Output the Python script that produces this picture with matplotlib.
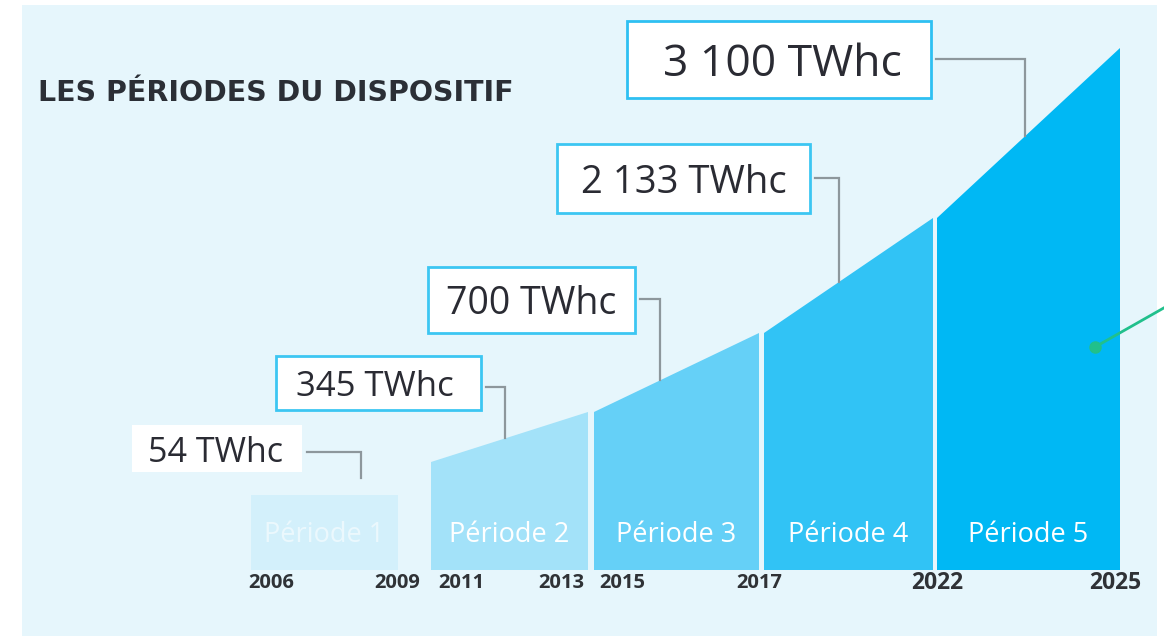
import matplotlib
matplotlib.use("Agg")
import matplotlib.pyplot as plt
from matplotlib.patches import Rectangle, Polygon

# ---------------- data ----------------
periods = ["Période 1", "Période 2", "Période 3", "Période 4", "Période 5"]
start_years = [2006, 2011, 2015, 2017, 2022]
end_years = [2009, 2013, 2017, 2022, 2025]
target_labels = ["54 TWhc", "345 TWhc", "700 TWhc", "2 133 TWhc", "3 100 TWhc"]
# illustrative height of the rising envelope at the start / end of each period
env_start = [75, 108, 158, 237, 352]
env_end = [75, 158, 237, 352, 522]
year_ticks = [2006, 2009, 2011, 2013, 2015, 2017, 2022, 2025]

# ---------------- layout (pixels) ----------------
W, H = 1164, 636
slot_left = [251, 431, 594, 764, 937]
slot_right = [398, 588, 759, 933, 1120]
period_colors = ["#d3f0fb", "#a3e2f9", "#65d0f7", "#31c3f5", "#00b8f4"]
period_text_alpha = [0.55, 1, 1, 1, 1]
year_x = [271, 397, 461, 561, 622, 759, 937, 1115]
year_size = [14.5, 14.5, 14.5, 14.5, 14.5, 14.5, 16.5, 16.5]
# label boxes: (x0, x1, y0, y1) in px from top-left
boxes = [(132, 302, 425, 472), (276, 481, 356, 410), (428, 635, 267, 333),
         (557, 810, 144, 213), (627, 931, 21, 98)]
box_border = [None, "#3cc6f2", "#3cc6f2", "#3cc6f2", "#2ec0f2"]
label_size = [24.5, 25, 27, 27.5, 32]
label_dx = [-2, -4, 0, 0, 3]
leader_x = [361, 505, 660, 839, 1025]
leader_y = [452, 387, 299, 178, 59]
leader_gap = [17, 0, 0, 0, 0]
BASE = 570  # px row of the baseline

fig = plt.figure(figsize=(W / 100, H / 100), dpi=100)
fig.patch.set_facecolor("white")
ax = fig.add_axes([0, 0, 1, 1])
ax.set_xlim(0, W)
ax.set_ylim(-(H - BASE), BASE)
ax.axis("off")


def py(y_px):
    return BASE - y_px


# background panel
ax.add_patch(Rectangle((22, py(H)), 1157 - 22, H - 5, facecolor="#e6f6fc",
                       edgecolor="none", zorder=0))

# periods
for i, name in enumerate(periods):
    x0, x1 = slot_left[i], slot_right[i]
    poly = Polygon([(x0, 0), (x0, env_start[i]), (x1, env_end[i]), (x1, 0)],
                   closed=True, facecolor=period_colors[i], edgecolor="none", zorder=2)
    ax.add_patch(poly)
    ax.text((x0 + x1) / 2, py(535), name, color="white", alpha=period_text_alpha[i],
            fontsize=19.5, family="Open Sans", ha="center", va="center", zorder=3)

# year ticks
for i, y in enumerate(year_ticks):
    ax.text(year_x[i], py(583), str(y), fontsize=year_size[i], family="Open Sans",
            fontweight="bold", color="#2f3236", ha="center", va="center", zorder=3)


def env_at(x):
    for i in range(len(periods)):
        if slot_left[i] <= x <= slot_right[i]:
            t = (x - slot_left[i]) / (slot_right[i] - slot_left[i])
            return env_start[i] + t * (env_end[i] - env_start[i])
    return 0


# label boxes + leaders
for i, lab in enumerate(target_labels):
    x0, x1, y0, y1 = boxes[i]
    ec = box_border[i] if box_border[i] else "none"
    ax.add_patch(Rectangle((x0, py(y1)), x1 - x0, y1 - y0, facecolor="white",
                           edgecolor=ec, linewidth=2.0, zorder=4))
    ax.text((x0 + x1) / 2 + label_dx[i], py((y0 + y1) / 2), lab, fontsize=label_size[i],
            family="Open Sans", color="#2a2b33", ha="center", va="center_baseline", zorder=5)
    top = env_at(leader_x[i]) + leader_gap[i]
    ax.plot([x1 + 5, leader_x[i], leader_x[i]], [py(leader_y[i]), py(leader_y[i]), top],
            color="#8d979c", linewidth=1.6, solid_joinstyle="miter", zorder=3)

# title
ax.text(38, py(101), "LES PÉRIODES DU DISPOSITIF", fontsize=20.5, family="DejaVu Sans",
        fontweight="bold", color="#2b2f36", ha="left", va="baseline", zorder=5)

# green pointer
ax.plot([1095, W + 5], [py(347), py(305)], color="#21c08c", linewidth=2, zorder=6,
        clip_on=False)
ax.plot([1095], [py(347)], "o", color="#21c08c", markersize=8, zorder=6)

fig.savefig("out.png", dpi=100, facecolor="white")
